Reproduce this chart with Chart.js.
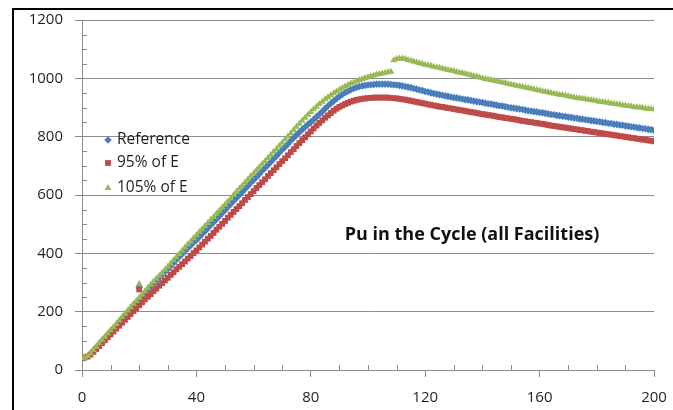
<!DOCTYPE html>
<html>
<head>
<meta charset="utf-8">
<script src="https://cdn.jsdelivr.net/npm/chart.js@4.4.1/dist/chart.umd.min.js"></script>
<style>
  html, body { margin: 0; padding: 0; background: #fff; }
  #wrap { position: relative; width: 673px; height: 410px; overflow: hidden; }
</style>
</head>
<body>
<div id="wrap"><canvas id="myChart"></canvas></div>
<script>
// one sample per year, 0..200
const years = Array.from({ length: 201 }, (_, i) => i);

const reference = [
  40,42,47,56,66,78,89,100,110,121,
  132,142,153,165,176,187,198,209,220,231,
  242,253,264,275,286,296,306,316,326,336,
  346,357,367,378,388,398,408,418,427,437,
  446,456,466,476,486,497,507,517,527,538,
  548,559,569,580,590,600,610,621,631,642,
  652,662,672,683,693,703,713,724,734,745,
  755,765,775,786,796,806,815,824,833,842,
  850,859,868,877,886,896,905,914,922,930,
  938,945,951,956,961,965,969,972,974,976,
  977,978,979,980,980,980,980,980,979,978,
  977,976,974,972,970,968,965,963,960,958,
  955,953,950,948,946,944,942,940,938,936,
  934,933,931,929,927,926,924,922,920,919,
  917,915,913,912,910,908,906,905,903,901,
  899,898,896,895,893,891,889,888,886,885,
  883,882,880,878,876,875,873,872,870,869,
  867,866,864,863,861,860,858,857,855,854,
  852,851,849,848,846,845,843,842,840,839,
  837,836,834,833,831,830,828,827,825,824,
  822];

const e95 = [
  42,43,46,53,62,72,82,92,102,112,
  122,132,142,152,162,172,182,192,202,212,
  222,232,242,251,260,270,279,289,298,307,
  316,326,335,345,354,363,372,382,391,401,
  410,420,430,440,450,460,470,481,491,501,
  511,522,532,542,552,562,572,583,593,603,
  613,624,634,644,654,665,675,685,695,706,
  716,726,736,747,757,768,778,788,798,808,
  818,828,838,847,856,865,873,881,889,896,
  902,907,912,916,920,923,926,928,930,931,
  932,933,934,934,934,934,934,934,933,932,
  931,930,928,927,925,923,921,919,917,915,
  913,911,909,907,905,903,902,900,898,897,
  895,893,891,890,888,886,884,883,881,879,
  877,876,874,873,871,869,867,866,864,863,
  861,860,858,856,854,853,851,850,848,847,
  845,844,842,840,838,837,835,834,832,831,
  829,828,826,825,823,822,820,819,817,816,
  814,813,811,810,808,807,805,804,802,801,
  799,798,796,795,793,792,790,789,787,786,
  784];

const e105 = [
  40,42,48,57,68,80,92,103,114,125,
  136,147,158,170,182,193,204,215,226,237,
  248,259,270,281,292,303,313,323,333,344,
  354,365,376,387,398,409,420,431,441,452,
  462,473,483,494,504,515,525,536,546,557,
  567,578,588,600,611,622,632,643,653,664,
  674,685,695,706,716,727,737,748,758,769,
  779,790,801,812,823,834,844,855,865,875,
  885,894,903,912,920,928,935,942,949,955,
  961,967,972,977,982,986,990,994,998,1001,
  1004,1007,1010,1013,1015,1017,1019,1021,1023,1062,
  1066,1068,1068,1066,1063,1061,1058,1055,1052,1050,
  1047,1045,1043,1040,1038,1036,1034,1031,1029,1027,
  1025,1022,1020,1018,1016,1013,1011,1008,1006,1003,
  1000,998,996,994,992,990,988,986,984,981,
  979,977,975,973,971,969,967,965,963,960,
  958,956,954,952,950,948,946,944,943,941,
  939,937,935,933,932,930,929,927,926,924,
  922,920,919,917,916,914,913,911,910,908,
  907,905,904,902,901,900,899,897,896,895,
  894];

// the odd single sample near year 20
const spikeYear = 20;
const spikeValues = [283, 276, 295]; // reference, 95%, 105%

const seriesNames = ["Reference", "95% of E", "105% of E"];
const seriesColors = ["#4a7ebb", "#be4b48", "#98b954"];
const seriesStyles = ["rectRot", "rect", "triangle"];
const seriesRadius = [3.8, 4.1, 4];

const xTicks = [0, 40, 80, 120, 160, 200];
const yTicks = [0, 200, 400, 600, 800, 1000, 1200];
const chartTitle = "Pu in the Cycle (all Facilities)";

const gridColor = "#8c8c8c";
const textColor = "#1e1e2a";
const fontFamily = "'Open Sans', 'DejaVu Sans', sans-serif";

function toPoints(values, spike) {
  const pts = years.map((x, i) => ({ x: x, y: values[i] }));
  pts.push({ x: spikeYear, y: spike });
  return pts;
}

const allValues = [reference, e95, e105];
const datasets = allValues.map((vals, i) => ({
  label: seriesNames[i],
  data: toPoints(vals, spikeValues[i]),
  showLine: false,
  pointStyle: seriesStyles[i],
  pointRadius: seriesRadius[i],
  pointBackgroundColor: seriesColors[i],
  pointBorderColor: seriesColors[i],
  pointBorderWidth: 0,
  order: 2 - i
}));

// chart frame + minor ticks
const framePlugin = {
  id: "frame",
  beforeDraw(chart) {
    const ctx = chart.ctx;
    ctx.save();
    ctx.fillStyle = "#fff";
    ctx.fillRect(0, 0, chart.width, chart.height);
    ctx.strokeStyle = "#000";
    ctx.lineWidth = 2;
    ctx.strokeRect(13, 9, 700, 500);
    ctx.restore();
  },
  beforeDatasetsDraw(chart) {
    const ctx = chart.ctx;
    const xs = chart.scales.x, ys = chart.scales.y;
    const a = chart.chartArea;
    ctx.save();
    ctx.strokeStyle = gridColor;
    ctx.lineWidth = 1;
    ctx.beginPath();
    for (let v = 10; v < 200; v += 10) {
      if (v % 40 === 0) continue;
      const px = Math.round(xs.getPixelForValue(v)) + 0.5;
      ctx.moveTo(px, a.bottom);
      ctx.lineTo(px, a.bottom - 5);
    }
    for (let v = 50; v < 1200; v += 50) {
      if (v % 200 === 0) continue;
      const py = Math.round(ys.getPixelForValue(v)) + 0.5;
      ctx.moveTo(a.left, py);
      ctx.lineTo(a.left + 5, py);
    }
    ctx.stroke();
    ctx.restore();
  }
};

// legend and title sit inside the plot area
const insidePlugin = {
  id: "inside",
  afterDraw(chart) {
    const ctx = chart.ctx;
    ctx.save();
    ctx.font = "15.5px " + fontFamily;
    ctx.textBaseline = "middle";
    ctx.textAlign = "left";
    const rows = [140, 163, 188];
    for (let i = 0; i < seriesNames.length; i++) {
      ctx.fillStyle = seriesColors[i];
      ctx.strokeStyle = seriesColors[i];
      Chart.helpers.drawPoint(ctx, {
        pointStyle: seriesStyles[i], radius: seriesRadius[i], rotation: 0, borderWidth: 0
      }, 108, rows[i]);
      ctx.fillStyle = textColor;
      ctx.fillText(seriesNames[i], 117, rows[i]);
    }
    ctx.font = "bold 18px " + fontFamily;
    ctx.textAlign = "center";
    ctx.fillStyle = "#111";
    ctx.fillText(chartTitle, 472, 235);
    ctx.restore();
  }
};

const ctx = document.getElementById("myChart").getContext("2d");
const myChart = new Chart(ctx, {
  type: "scatter",
  data: { datasets: datasets },
  options: {
    responsive: true,
    maintainAspectRatio: false,
    animation: false,
    events: [],
    layout: { padding: { top: 20, right: 19, left: 0, bottom: 0 } },
    plugins: { legend: { display: false }, tooltip: { enabled: false } },
    scales: {
      x: {
        type: "linear",
        min: 0,
        max: 200,
        afterFit: (s) => { s.height = 40; s.paddingRight = 0; s.paddingLeft = 0; },
        afterBuildTicks: (s) => { s.ticks = xTicks.map(v => ({ value: v })); },
        ticks: { color: textColor, font: { family: fontFamily, size: 15 }, padding: 12, maxRotation: 0,
                 callback: (v) => String(v) },
        grid: { drawOnChartArea: false, color: gridColor, tickLength: 7 },
        border: { color: gridColor }
      },
      y: {
        min: 0,
        max: 1200,
        afterFit: (s) => { s.width = 82; s.paddingTop = 0; s.paddingBottom = 0; },
        afterBuildTicks: (s) => { s.ticks = yTicks.map(v => ({ value: v })); },
        ticks: { color: textColor, font: { family: fontFamily, size: 15 }, padding: 12,
                 callback: (v) => String(v) },
        grid: { color: gridColor, tickLength: 7 },
        border: { color: gridColor }
      }
    }
  },
  plugins: [framePlugin, insidePlugin]
});
</script>
</body>
</html>
